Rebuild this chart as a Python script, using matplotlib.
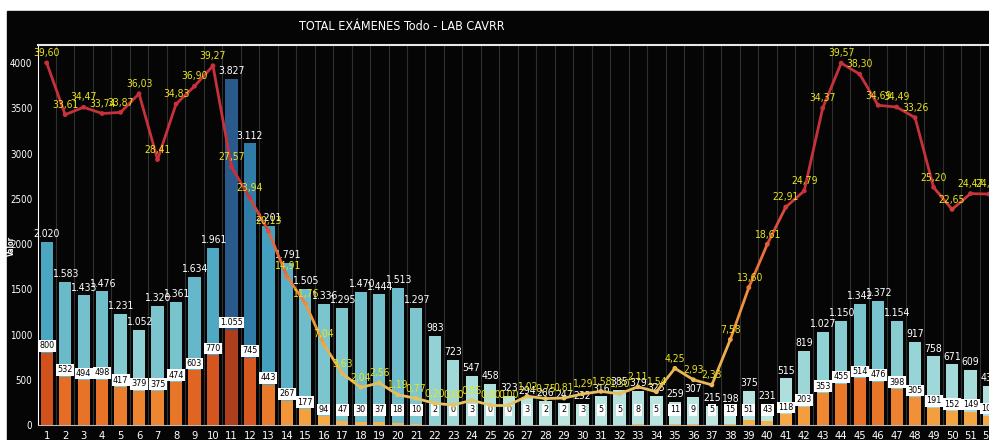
import matplotlib.pyplot as plt
import numpy as np
from matplotlib.collections import LineCollection
from matplotlib.colors import LinearSegmentedColormap, Normalize
from matplotlib.patches import Rectangle

# weekly data
weeks = list(range(1, 53))
total = [2020, 1583, 1433, 1476, 1231, 1052, 1320, 1361, 1634, 1961,
         3827, 3112, 2201, 1791, 1505, 1336, 1295, 1470, 1444, 1513,
         1297, 983, 723, 547, 458, 323, 294, 266, 247, 232,
         316, 385, 379, 325, 259, 307, 215, 198, 375, 231,
         515, 819, 1027, 1150, 1342, 1372, 1154, 917, 758, 671,
         609, 430]
positivos = [800, 532, 494, 498, 417, 379, 375, 474, 603, 770,
             1055, 745, 443, 267, 177, 94, 47, 30, 37, 18,
             10, 2, 0, 3, 0, 0, 3, 2, 2, 3,
             5, 5, 8, 5, 11, 9, 5, 15, 51, 43,
             118, 203, 353, 455, 514, 476, 398, 305, 191, 152,
             149, 105]
pct = [39.60, 33.61, 34.47, 33.74, 33.87, 36.03, 28.41, 34.83, 36.90, 39.27,
       27.57, 23.94, 20.13, 14.91, 11.76, 7.04, 3.63, 2.04, 2.56, 1.19,
       0.77, 0.20, 0.00, 0.55, 0.00, 0.00, 1.02, 0.75, 0.81, 1.29,
       1.58, 1.30, 2.11, 1.54, 4.25, 2.93, 2.33, 7.58, 13.60, 18.61,
       22.91, 24.79, 34.37, 39.57, 38.30, 34.69, 34.49, 33.26, 25.20, 22.65,
       24.47, 24.42]

plt.rcParams['font.family'] = ['DejaVu Sans']
plt.rcParams['font.stretch'] = 'condensed'

W, H = 989, 440
fig = plt.figure(figsize=(W / 100, H / 100), dpi=100, facecolor='white')
fig.add_artist(Rectangle((7 / W, 0), 1, (H - 11) / H, transform=fig.transFigure,
                         color='#050505', zorder=-5))

ax = fig.add_axes([38 / W, 15 / H, (W - 38) / W, 380 / H])
ax.set_facecolor('#050505')
ax.set_xlim(0.53, 51.89)
ax.set_ylim(0, 4200)

x = np.array(weeks)
tot = np.array(total)
pos = np.array(positivos)

# colour ramps by value
blue_cmap = LinearSegmentedColormap.from_list('b', ['#c2e8e2', '#8ccfd2', '#4aa6c2', '#3184ad', '#2a578a'])
orange_cmap = LinearSegmentedColormap.from_list('o', ['#f7b64c', '#f29438', '#e46a24', '#d0501e', '#a63c1c'])
line_cmap = LinearSegmentedColormap.from_list('l', ['#e6c464', '#f0a040', '#ec6a3a', '#c8303c'])

bnorm = Normalize(150, 3900)
onorm = Normalize(0, 1100)
lnorm = Normalize(0, 25, clip=True)

for xi in np.arange(1.5, 53, 1):
    ax.axvline(xi, color='#303030', lw=0.8, zorder=0)

bw = 0.66
ax.bar(x, tot, width=bw, color=blue_cmap(bnorm(tot)), zorder=2)
ax.bar(x, pos, width=bw, color=orange_cmap(onorm(pos)), zorder=3)

def fmt(v):
    return f'{v:,}'.replace(',', '.')

for xi, t in zip(x, tot):
    ax.annotate(fmt(t), (xi, t), xytext=(0, 2), textcoords='offset points',
                ha='center', va='bottom', color='white', fontsize=7.5, zorder=6)

for xi, p in zip(x, pos):
    ax.annotate(fmt(p), (xi, max(p, 90)), xytext=(0, 5), textcoords='offset points',
                ha='center', va='center', color='black', fontsize=6.5, zorder=7,
                bbox=dict(boxstyle='square,pad=0.15', fc='white', ec='none'))

# percentage line on hidden secondary scale
ax2 = ax.twinx()
ax2.set_ylim(-2.31, 41.67)
ax2.set_xlim(ax.get_xlim())
ax2.axis('off')
pts = np.column_stack([x, pct])
segs = np.stack([pts[:-1], pts[1:]], axis=1)
mid = (np.array(pct[:-1]) + np.array(pct[1:])) / 2
lc = LineCollection(segs, colors=line_cmap(lnorm(mid)), linewidths=2, zorder=4)
ax2.add_collection(lc)
ax2.scatter(x, pct, s=6, color=line_cmap(lnorm(np.array(pct))), zorder=5)
for xi, p in zip(x, pct):
    ax2.annotate(f'{p:.2f}'.replace('.', ','), (xi, p), xytext=(0, 7), textcoords='offset points',
                 ha='center', va='center', color='#e8e41c', fontsize=7.5, zorder=8)

ax.set_yticks(range(0, 4001, 500))
ax.set_xticks(weeks)
ax.tick_params(axis='both', colors='white', length=0)
ax.tick_params(axis='y', pad=4, labelsize=7)
ax.tick_params(axis='x', pad=4, labelsize=8)
ax.spines['right'].set_visible(False)
ax.spines['left'].set_color('white')
ax.spines['top'].set_color('#e8e8e8')
ax.spines['top'].set_linewidth(1.5)
ax.spines['bottom'].set_color('#bbbbbb')

fig.text(402 / W, 1 - 27 / H, 'TOTAL EXÁMENES Todo - LAB CAVRR', color='white',
         ha='center', va='center', fontsize=9)
fig.text(11 / W, 1 - 246 / H, 'Valor', rotation=90, color='white', fontsize=5.5,
         fontweight='bold', ha='center', va='center')

fig.savefig('out.png', dpi=100, facecolor='white')
